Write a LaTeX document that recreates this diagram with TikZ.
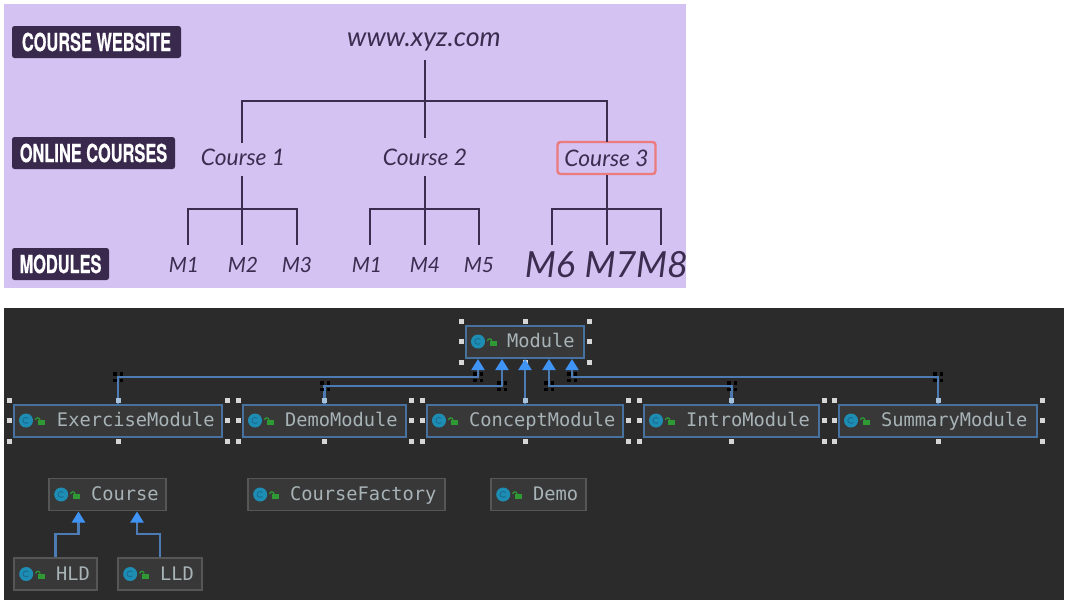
\documentclass[tikz,border=0pt]{standalone}
\usepackage{fontspec}
\usetikzlibrary{arrows.meta,calc}
\newfontfamily\labfont[FakeStretch=0.655,FakeBold=0.5]{TeX Gyre Heros Bold}
\newfontfamily\itfont{Lato Italic}
\newfontfamily\umlfont{DejaVu Sans Mono}
\definecolor{lilac}{HTML}{D3C2F2}
\definecolor{ink}{HTML}{3A2D50}
\definecolor{labbg}{HTML}{38294D}
\definecolor{pinkb}{HTML}{EC7B7D}
\definecolor{darkbg}{HTML}{2B2B2B}
\definecolor{boxbg}{HTML}{383838}
\definecolor{selb}{HTML}{47719F}
\definecolor{greyb}{HTML}{565656}
\definecolor{linkc}{HTML}{4D7CB5}
\definecolor{tipc}{HTML}{3F93F5}
\definecolor{umltext}{HTML}{A8B3B7}
\definecolor{iconc}{HTML}{1E8DB3}
\definecolor{iconi}{HTML}{1A6E96}
\definecolor{lockc}{HTML}{2F9A34}
\definecolor{handlec}{HTML}{D6D6D6}
\definecolor{handleb}{HTML}{A9C2DC}
\tikzset{
  x=1pt,y=-1pt,
  tag/.style={fill=labbg,rounded corners=2.5pt,inner sep=0pt,text=white,
    font=\labfont\fontsize{25}{25}\selectfont},
  treetxt/.style={inner sep=0pt,text=ink,font=\itfont\fontsize{22.8}{23}\selectfont,
    minimum height=38pt,minimum width=90pt},
  modtxt/.style={inner sep=0pt,text=ink,font=\itfont\fontsize{21}{21}\selectfont,
    minimum height=40pt,minimum width=30pt},
  bigmod/.style={modtxt,font=\itfont\fontsize{36}{36}\selectfont},
  branch/.style={draw=ink,line width=2pt},
  umlbox/.style={inner sep=0pt,fill=boxbg,text=umltext,align=left,minimum height=32pt,
    text height=14pt,text depth=2pt,font=\umlfont\fontsize{18.7}{19}\selectfont},
  selbox/.style={umlbox,draw=selb,line width=2pt},
  plainbox/.style={umlbox,draw=greyb,line width=1.6pt},
  link/.style={draw=linkc,line width=2.2pt,
    -{Triangle[width=13pt,length=11pt,color=tipc]}},
}
% selection handles round a node
\newcommand{\hsq}[3][handlec]{\fill[#1] ($(#2)+(#3)+(-2.5,-2.5)$) rectangle +(5,5);}
\newcommand{\handles}[1]{%
  \hsq{#1.north west}{-4,-3}\hsq{#1.north east}{4,-3}%
  \hsq{#1.west}{-4,0}\hsq{#1.east}{4,0}%
  \hsq{#1.south west}{-4,4}\hsq{#1.south}{0,4}\hsq{#1.south east}{4,4}}
% four black squares round a bend
\newcommand{\bendmark}[1]{\foreach \dx in {-3.3,3.3}{\foreach \dy in {-3.3,3.3}{%
  \fill[black] ($(#1)+(\dx,\dy)+(-1.8,-1.8)$) rectangle +(3.6,3.6);}}}
% class and lock icons
\newcommand{\icons}[1]{%
  \fill[iconc] ($(#1.west)+(13,0)$) circle (7);
  \draw[iconi,line width=1pt] ($(#1.west)+(13,0)+(2.2,-2)$) arc (-40:-320:3);
  \fill[lockc] ($(#1.west)+(24.5,-0.5)$) rectangle +(7.5,5);
  \draw[lockc,line width=1.2pt] ($(#1.west)+(22.5,-0.5)$) arc (180:360:2.2);}
\begin{document}
\begin{tikzpicture}
\useasboundingbox (0,0) rectangle (1068,603);
\fill[white] (0,0) rectangle (1068,603);
\fill[lilac] (4,4) rectangle (686,288);
\fill[darkbg] (4,308) rectangle (1064,600);

% category tags
\node[tag,minimum width=169pt,minimum height=32pt] (t1) at (96.5,42) {COURSE WEBSITE};
\node[tag,minimum width=163pt,minimum height=32pt] (t2) at (93.5,153) {ONLINE COURSES};
\node[tag,minimum width=97pt,minimum height=32pt] (t3) at (60.5,264) {MODULES};

% tree
\node[treetxt,font=\itfont\fontsize{26.8}{27}\selectfont,minimum height=36pt,minimum width=160pt] (www) at (424,42) {www.xyz.com};
\node[treetxt] (c1) at (243,157) {Course 1};
\node[treetxt] (c2) at (425,157) {Course 2};
\node[draw=pinkb,line width=2.4pt,rounded corners=3pt,inner sep=0pt,text=ink,
  font=\itfont\fontsize{22.8}{23}\selectfont,minimum width=98pt,minimum height=32pt] (c3) at (606.5,158) {Course 3};
\coordinate (rootj) at (424.7,101);
\coordinate (c1top) at (242,143);
\coordinate (c2top) at (424.7,138);
\coordinate (c3top) at (606.7,142);
\draw[branch] (www.south -| rootj) -- (rootj) -- (c2top);
\draw[branch] (c1top) |- (rootj) -| (c3top);

\node[modtxt] (m1) at (184,265) {M1};
\node[modtxt] (m2) at (243,265) {M2};
\node[modtxt] (m3) at (297,265) {M3};
\node[modtxt] (m4) at (367,265) {M1};
\node[modtxt] (m5) at (425,265) {M4};
\node[modtxt] (m6) at (479,265) {M5};
\node[bigmod] (m7) at (550,265) {M6};
\node[bigmod] (m8) at (610.5,265) {M7};
\node[bigmod] (m9) at (662,265) {M8};

\coordinate (j1) at (242,209);
\coordinate (j2) at (424.7,209);
\coordinate (j3) at (606.7,209);
\coordinate (e1) at (242,245); \coordinate (e1l) at (188,245); \coordinate (e1r) at (297,245);
\coordinate (e2) at (424.7,245); \coordinate (e2l) at (370,245); \coordinate (e2r) at (479,245);
\coordinate (e3) at (606.7,245); \coordinate (e3l) at (552,245); \coordinate (e3r) at (661,245);
\draw[branch] (c1.south -| j1) -- (e1);
\draw[branch] (e1l) |- (j1) -| (e1r);
\draw[branch] (c2.south -| j2) -- (e2);
\draw[branch] (e2l) |- (j2) -| (e2r);
\draw[branch] (c3.south -| j3) -- (e3);
\draw[branch] (e3l) |- (j3) -| (e3r);

% class diagram
\node[selbox,text width=118pt] (mod) at (525,341.5) {\hspace*{41pt}Module};
\node[selbox,text width=208pt] (ex) at (118,420.5) {\hspace*{43pt}ExerciseModule};
\node[selbox,text width=163pt] (de) at (324.5,420.5) {\hspace*{42pt}DemoModule};
\node[selbox,text width=196pt] (co) at (525,420.5) {\hspace*{42pt}ConceptModule};
\node[selbox,text width=175pt] (in) at (731.5,420.5) {\hspace*{42pt}IntroModule};
\node[selbox,text width=198pt] (su) at (938,420.5) {\hspace*{42pt}SummaryModule};
\node[plainbox,text width=117pt] (cs) at (107.5,494.5) {\hspace*{42pt}Course};
\node[plainbox,text width=197pt] (cf) at (346.5,494.5) {\hspace*{42pt}CourseFactory};
\node[plainbox,text width=95pt] (dm) at (538.5,494.5) {\hspace*{42pt}Demo};
\node[plainbox,text width=83pt] (hl) at (55.5,574) {\hspace*{42pt}HLD};
\node[plainbox,text width=84pt] (ll) at (160,574) {\hspace*{42pt}LLD};

\foreach \n in {mod,ex,de,co,in,su,cs,cf,dm,hl,ll}{\icons{\n}}
\foreach \n in {mod,ex,de,co,in,su}{\handles{\n}}
\hsq{mod.north}{0,-3}

\coordinate (b1) at (478,377);
\coordinate (b2) at (502,386);
\coordinate (b3) at (549,386);
\coordinate (b4) at (572,377);
\coordinate (a1) at ($(mod.south)+(-47,0.5)$);
\coordinate (a2) at ($(mod.south)+(-23,0.5)$);
\coordinate (a3) at ($(mod.south)+(0,0.5)$);
\coordinate (a4) at ($(mod.south)+(24,0.5)$);
\coordinate (a5) at ($(mod.south)+(47,0.5)$);
\draw[link] (ex.north) |- (b1) -- (a1);
\draw[link] (de.north) |- (b2) -- (a2);
\draw[link] (co.north) -- (a3);
\draw[link] (in.north) |- (b3) -- (a4);
\draw[link] (su.north) |- (b4) -- (a5);
\foreach \n in {ex,de,co,in,su}{\hsq[handleb]{\n.north}{0,-3}}
\bendmark{118,377}\bendmark{b1}
\bendmark{325,386}\bendmark{b2}
\bendmark{b3}\bendmark{732,386}
\bendmark{b4}\bendmark{938,377}

\coordinate (h1) at (78.5,534);
\coordinate (h2) at (137,534);
\coordinate (h1t) at (78.5,511.5);
\coordinate (h2t) at (137,511.5);
\draw[link] (hl.north) |- (h1) -- (h1t);
\draw[link] (ll.north) |- (h2) -- (h2t);
\end{tikzpicture}
\end{document}
